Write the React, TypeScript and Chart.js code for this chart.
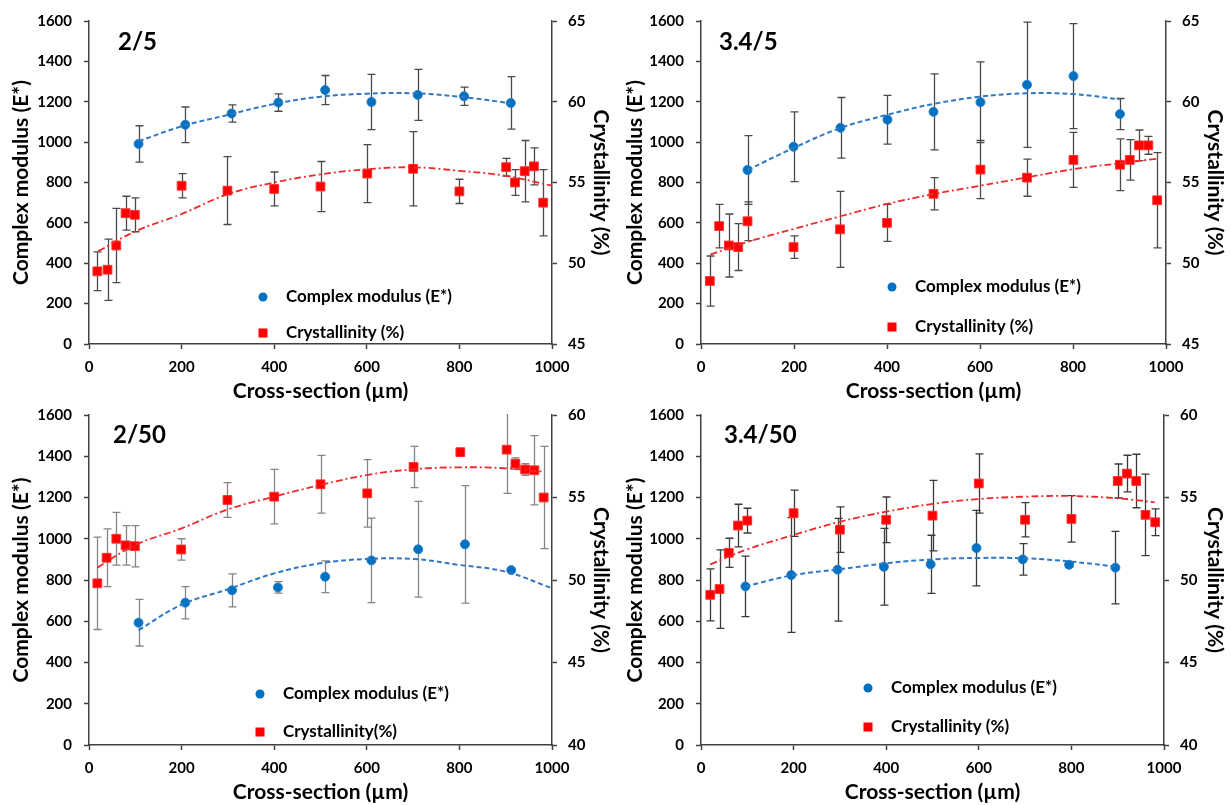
import React, { useEffect, useRef } from 'react';
import { Chart, registerables } from 'chart.js';
Chart.register(...registerables);

// ---------- Panel "2/5" ----------
const p25BlueX = [107, 208, 308, 409, 510, 610, 710, 810, 911];
const p25BlueY = [991, 1086, 1142, 1196, 1258, 1199, 1234, 1227, 1194];
const p25BlueErr = [90, 88, 43, 43, 72, 137, 126, 45, 130];
const p25RedX = [18, 40, 59, 79, 99, 200, 299, 400, 500, 601, 700, 800, 901, 920, 941, 961, 981];
const p25RedY = [49.5, 49.6, 51.1, 53.1, 53.0, 54.8, 54.5, 54.6, 54.75, 55.55, 55.85, 54.45, 55.95, 55.0, 55.7, 56.0, 53.75];
const p25RedErr = [1.2, 1.9, 2.3, 1.05, 1.05, 0.75, 2.1, 1.05, 1.55, 1.8, 2.3, 0.75, 0.55, 0.8, 1.9, 1.15, 2.05];
const p25BlueTrendX = [107, 200, 300, 400, 500, 600, 700, 800, 911];
const p25BlueTrendY = [1004, 1078, 1135, 1189, 1225, 1240, 1242, 1225, 1193];
const p25RedTrendX = [20, 100, 200, 300, 400, 500, 600, 700, 800, 900, 1000];
const p25RedTrendY = [50.75, 51.97, 53.05, 54.28, 55.0, 55.5, 55.82, 55.94, 55.72, 55.41, 54.8];

// ---------- Panel "3.4/5" ----------
const p345BlueX = [100, 199, 300, 401, 500, 601, 701, 801, 901];
const p345BlueY = [862, 977, 1071, 1111, 1150, 1198, 1284, 1327, 1139];
const p345BlueErr = [170, 173, 150, 121, 188, 200, 310, 260, 77];
const p345RedX = [19, 39, 60, 80, 100, 199, 299, 400, 500, 601, 701, 801, 901, 922, 942, 962, 981];
const p345RedY = [48.9, 52.3, 51.1, 51.0, 52.6, 51.0, 52.1, 52.5, 54.3, 55.8, 55.3, 56.4, 56.1, 56.4, 57.3, 57.3, 53.9];
const p345RedErr = [1.55, 1.35, 1.95, 1.45, 1.2, 0.7, 2.35, 1.15, 1.0, 1.8, 1.15, 1.7, 1.6, 1.25, 0.95, 0.55, 2.95];
const p345BlueTrendX = [100, 200, 300, 400, 500, 600, 700, 800, 900];
const p345BlueTrendY = [862, 972, 1070, 1135, 1189, 1225, 1242, 1238, 1212];
const p345RedTrendX = [20, 100, 200, 300, 400, 500, 600, 700, 800, 900, 980];
const p345RedTrendY = [50.54, 51.32, 52.13, 52.91, 53.67, 54.28, 54.8, 55.31, 55.82, 56.19, 56.47];

// ---------- Panel "2/50" ----------
const p250BlueX = [107, 208, 309, 408, 510, 610, 711, 812, 912];
const p250BlueY = [593, 690, 750, 764, 816, 895, 949, 973, 848];
const p250BlueErr = [113, 78, 80, 28, 77, 205, 232, 285, 0];
const p250RedX = [18, 38, 59, 79, 99, 199, 299, 400, 500, 601, 701, 802, 902, 921, 942, 962, 982];
const p250RedY = [49.8, 51.35, 52.5, 52.1, 52.05, 51.85, 54.85, 55.05, 55.8, 55.25, 56.85, 57.75, 57.9, 57.05, 56.7, 56.65, 55.0];
const p250RedErr = [2.8, 1.75, 1.6, 1.2, 1.25, 0.65, 1.05, 1.65, 1.75, 2.05, 1.25, 0, 2.65, 0.35, 0.35, 2.1, 3.1];
const p250BlueTrendX = [107, 200, 300, 400, 500, 600, 700, 800, 900, 1000];
const p250BlueTrendY = [557, 680, 755, 832, 881, 902, 902, 873, 840, 760];
const p250RedTrendX = [18, 100, 200, 300, 400, 500, 600, 700, 800, 900, 980];
const p250RedTrendY = [50.75, 52.12, 53.13, 54.28, 55.05, 55.76, 56.36, 56.71, 56.83, 56.77, 56.57];

// ---------- Panel "3.4/50" ----------
const p3450BlueX = [96, 195, 295, 395, 496, 595, 695, 795, 895];
const p3450BlueY = [769, 824, 850, 864, 876, 955, 900, 874, 860];
const p3450BlueErr = [147, 278, 249, 186, 141, 183, 76, 10, 176];
const p3450RedX = [20, 40, 60, 80, 100, 200, 300, 400, 500, 600, 700, 800, 900, 920, 940, 960, 981];
const p3450RedY = [49.1, 49.45, 51.65, 53.3, 53.6, 54.05, 53.05, 53.65, 53.9, 55.85, 53.65, 53.7, 56.0, 56.45, 56.0, 53.95, 53.5];
const p3450RedErr = [1.58, 2.38, 0.88, 1.29, 0.75, 1.4, 1.38, 1.38, 2.14, 1.8, 1.04, 1.41, 1.03, 1.11, 1.62, 2.47, 0.81];
const p3450BlueTrendX = [96, 200, 300, 400, 500, 600, 700, 800, 900];
const p3450BlueTrendY = [769, 824, 852, 881, 900, 907, 905, 889, 864];
const p3450RedTrendX = [20, 100, 200, 300, 400, 500, 600, 700, 800, 900, 980];
const p3450RedTrendY = [50.95, 51.86, 52.73, 53.53, 54.14, 54.61, 54.91, 55.05, 55.09, 54.95, 54.71];

const xTitle = 'Cross-section (µm)';
const yLeftTitle = 'Complex modulus (E*)';
const yRightTitle = 'Crystallinity (%)';

const BLUE = '#0070C0';
const RED = '#FF0000';
const AXIS = '#404040';
const FONT = 'Lato, "Open Sans", sans-serif';

const pts = (xs: number[], ys: number[]) => xs.map((x, i) => ({ x, y: ys[i] }));

const errorBarPlugin = {
  id: 'errorBars',
  beforeDatasetsDraw(chart: any, _args: any, opts: any) {
    const { ctx, chartArea } = chart;
    ctx.save();
    ctx.beginPath();
    ctx.rect(chartArea.left, chartArea.top - 1, chartArea.right - chartArea.left, chartArea.bottom - chartArea.top + 1);
    ctx.clip();
    ctx.strokeStyle = opts.color || '#505050';
    ctx.lineWidth = 1.3;
    chart.data.datasets.forEach((ds: any) => {
      if (!ds.errors) return;
      const xs = chart.scales.x;
      const ys = chart.scales[ds.yAxisID];
      ds.data.forEach((p: any, i: number) => {
        const e = ds.errors[i];
        if (!e) return;
        const px = Math.round(xs.getPixelForValue(p.x)) + 0.5;
        const top = ys.getPixelForValue(p.y + e);
        const bot = ys.getPixelForValue(p.y - e);
        ctx.beginPath();
        ctx.moveTo(px, top);
        ctx.lineTo(px, bot);
        ctx.moveTo(px - 4, top);
        ctx.lineTo(px + 4, top);
        ctx.moveTo(px - 4, bot);
        ctx.lineTo(px + 4, bot);
        ctx.stroke();
      });
    });
    ctx.restore();
  },
};

const innerLegendPlugin = {
  id: 'innerLegend',
  afterDraw(chart: any, _args: any, opts: any) {
    const { ctx, chartArea } = chart;
    const x = chartArea.left + opts.dx;
    ctx.save();
    ctx.font = `bold 17px ${FONT}`;
    ctx.textBaseline = 'middle';
    const y1 = chartArea.top + opts.dy1;
    const y2 = chartArea.top + opts.dy2;
    ctx.fillStyle = BLUE;
    ctx.beginPath();
    ctx.arc(x, y1, 4.5, 0, Math.PI * 2);
    ctx.fill();
    ctx.fillStyle = RED;
    ctx.fillRect(x - 4.5, y2 - 4.5, 9, 9);
    ctx.fillStyle = '#000';
    ctx.fillText(opts.label1, x + 23, y1);
    ctx.fillText(opts.label2, x + 23, y2);
    ctx.restore();
  },
};

const panelLabelPlugin = {
  id: 'panelLabel',
  afterDraw(chart: any, _args: any, opts: any) {
    const { ctx, chartArea } = chart;
    ctx.save();
    ctx.font = `bold 24px ${FONT}`;
    ctx.textBaseline = 'alphabetic';
    ctx.fillStyle = '#000';
    ctx.fillText(opts.text, chartArea.left + opts.dx, chartArea.top + opts.dy);
    ctx.restore();
  },
};

type PanelCfg = {
  label: string;
  left: number;
  top: number;
  width: number;
  height: number;
  padTop: number;
  yLeftW: number;
  yRightW: number;
  xH: number;
  y2Min: number;
  y2Max: number;
  blueX: number[];
  blueY: number[];
  blueErr: number[];
  redX: number[];
  redY: number[];
  redErr: number[];
  blueTX: number[];
  blueTY: number[];
  redTX: number[];
  redTY: number[];
  redLabel: string;
  legend: { dx: number; dy1: number; dy2: number };
  labelPos: { dx: number; dy: number };
  errColor: string;
  leftTitlePad: number;
  rightTitlePad: number;
  bottomTitlePad: number;
};

const panels: PanelCfg[] = [
  {
    label: '2/5', left: 0, top: 0, width: 615, height: 408, padTop: 16,
    yLeftW: 89, yRightW: 63, xH: 64, y2Min: 45, y2Max: 65,
    blueX: p25BlueX, blueY: p25BlueY, blueErr: p25BlueErr,
    redX: p25RedX, redY: p25RedY, redErr: p25RedErr,
    blueTX: p25BlueTrendX, blueTY: p25BlueTrendY, redTX: p25RedTrendX, redTY: p25RedTrendY,
    redLabel: 'Crystallinity (%)',
    legend: { dx: 174, dy1: 276, dy2: 312 }, labelPos: { dx: 29, dy: 29 },
    errColor: '#4a4a4a', leftTitlePad: 9, rightTitlePad: 1.5, bottomTitlePad: 4,
  },
  {
    label: '3.4/5', left: 615, top: 0, width: 615, height: 408, padTop: 16,
    yLeftW: 86, yRightW: 64, xH: 64, y2Min: 45, y2Max: 65,
    blueX: p345BlueX, blueY: p345BlueY, blueErr: p345BlueErr,
    redX: p345RedX, redY: p345RedY, redErr: p345RedErr,
    blueTX: p345BlueTrendX, blueTY: p345BlueTrendY, redTX: p345RedTrendX, redTY: p345RedTrendY,
    redLabel: 'Crystallinity (%)',
    legend: { dx: 191, dy1: 266, dy2: 306 }, labelPos: { dx: 18, dy: 29 },
    errColor: '#4a4a4a', leftTitlePad: 8, rightTitlePad: 3, bottomTitlePad: 4,
  },
  {
    label: '2/50', left: 0, top: 392, width: 615, height: 413, padTop: 23,
    yLeftW: 89, yRightW: 63, xH: 60, y2Min: 40, y2Max: 60,
    blueX: p250BlueX, blueY: p250BlueY, blueErr: p250BlueErr,
    redX: p250RedX, redY: p250RedY, redErr: p250RedErr,
    blueTX: p250BlueTrendX, blueTY: p250BlueTrendY, redTX: p250RedTrendX, redTY: p250RedTrendY,
    redLabel: 'Crystallinity(%)',
    legend: { dx: 171, dy1: 279, dy2: 317 }, labelPos: { dx: 24, dy: 28 },
    errColor: '#858585', leftTitlePad: 9, rightTitlePad: 1.5, bottomTitlePad: 0.5,
  },
  {
    label: '3.4/50', left: 615, top: 392, width: 615, height: 413, padTop: 23,
    yLeftW: 86, yRightW: 66, xH: 60, y2Min: 40, y2Max: 60,
    blueX: p3450BlueX, blueY: p3450BlueY, blueErr: p3450BlueErr,
    redX: p3450RedX, redY: p3450RedY, redErr: p3450RedErr,
    blueTX: p3450BlueTrendX, blueTY: p3450BlueTrendY, redTX: p3450RedTrendX, redTY: p3450RedTrendY,
    redLabel: 'Crystallinity (%)',
    legend: { dx: 167, dy1: 273, dy2: 312 }, labelPos: { dx: 23, dy: 28 },
    errColor: '#3a3a3a', leftTitlePad: 8, rightTitlePad: 3, bottomTitlePad: 0.5,
  },
];

const plainTick = (v: any) => String(v);

function Panel({ cfg }: { cfg: PanelCfg }) {
  const ref = useRef<HTMLCanvasElement | null>(null);
  useEffect(() => {
    if (!ref.current) return;
    const tickFont = { family: FONT, size: 15, weight: 'bold' as const };
    const titleFont = { family: FONT, size: 21, weight: 'bold' as const };
    const grid = {
      display: true,
      drawOnChartArea: false,
      drawTicks: true,
      tickLength: 5,
      tickColor: AXIS,
      tickWidth: 1.5,
    };
    const border = { display: true, color: AXIS, width: 1.5 };
    const chart = new Chart(ref.current, {
      type: 'scatter',
      data: {
        datasets: [
          {
            type: 'line',
            label: 'blue trend',
            data: pts(cfg.blueTX, cfg.blueTY),
            yAxisID: 'y',
            borderColor: '#2f78c4',
            borderWidth: 2,
            borderDash: [5, 3],
            pointRadius: 0,
            tension: 0.4,
            fill: false,
          } as any,
          {
            type: 'line',
            label: 'red trend',
            data: pts(cfg.redTX, cfg.redTY),
            yAxisID: 'y2',
            borderColor: '#f02828',
            borderWidth: 1.8,
            borderDash: [7, 3, 2, 3],
            pointRadius: 0,
            tension: 0.4,
            fill: false,
          } as any,
          {
            label: yLeftTitle,
            data: pts(cfg.blueX, cfg.blueY),
            errors: cfg.blueErr,
            yAxisID: 'y',
            pointStyle: 'circle',
            pointRadius: 4.5,
            backgroundColor: BLUE,
            borderColor: '#2a80cc',
            borderWidth: 1,
          } as any,
          {
            label: cfg.redLabel,
            data: pts(cfg.redX, cfg.redY),
            errors: cfg.redErr,
            yAxisID: 'y2',
            pointStyle: 'rect',
            pointRadius: 6.2,
            backgroundColor: RED,
            borderColor: '#ff3030',
            borderWidth: 1,
          } as any,
        ],
      },
      options: {
        responsive: false,
        animation: false,
        layout: { padding: { top: cfg.padTop, left: 0, right: 0, bottom: 0 } },
        plugins: {
          legend: { display: false },
          tooltip: { enabled: false },
          errorBars: { color: cfg.errColor },
          innerLegend: { ...cfg.legend, label1: yLeftTitle, label2: cfg.redLabel },
          panelLabel: { text: cfg.label, ...cfg.labelPos },
        } as any,
        scales: {
          x: {
            type: 'linear',
            position: 'bottom',
            min: 0,
            max: 1000,
            ticks: { stepSize: 200, font: tickFont, color: '#000', padding: 9, maxRotation: 0, callback: plainTick },
            grid,
            border,
            title: { display: true, text: xTitle, font: titleFont, color: '#000', padding: { top: 0, bottom: cfg.bottomTitlePad } },
            afterFit: (s: any) => { s.height = cfg.xH; },
          },
          y: {
            type: 'linear',
            position: 'left',
            min: 0,
            max: 1600,
            ticks: { stepSize: 200, font: tickFont, color: '#000', padding: 12, callback: plainTick },
            grid,
            border,
            title: { display: true, text: yLeftTitle, font: titleFont, color: '#000', padding: { top: cfg.leftTitlePad, bottom: 0 } },
            afterFit: (s: any) => { s.width = cfg.yLeftW; },
          },
          y2: {
            type: 'linear',
            position: 'right',
            min: cfg.y2Min,
            max: cfg.y2Max,
            ticks: { stepSize: 5, font: tickFont, color: '#000', padding: 11, callback: plainTick },
            grid,
            border,
            title: { display: true, text: yRightTitle, font: titleFont, color: '#000', padding: { top: cfg.rightTitlePad, bottom: 0 } },
            afterFit: (s: any) => { s.width = cfg.yRightW; },
          },
        },
      } as any,
      plugins: [errorBarPlugin, innerLegendPlugin, panelLabelPlugin],
    });
    return () => chart.destroy();
  }, [cfg]);
  return (
    <canvas
      ref={ref}
      width={cfg.width}
      height={cfg.height}
      style={{ position: 'absolute', left: cfg.left, top: cfg.top, width: cfg.width, height: cfg.height }}
    />
  );
}

export default function App() {
  return (
    <div style={{ position: 'absolute', left: 0, top: 0, width: 1231, height: 805, background: '#fff' }}>
      {panels.map((p) => (
        <Panel key={p.label} cfg={p} />
      ))}
    </div>
  );
}
